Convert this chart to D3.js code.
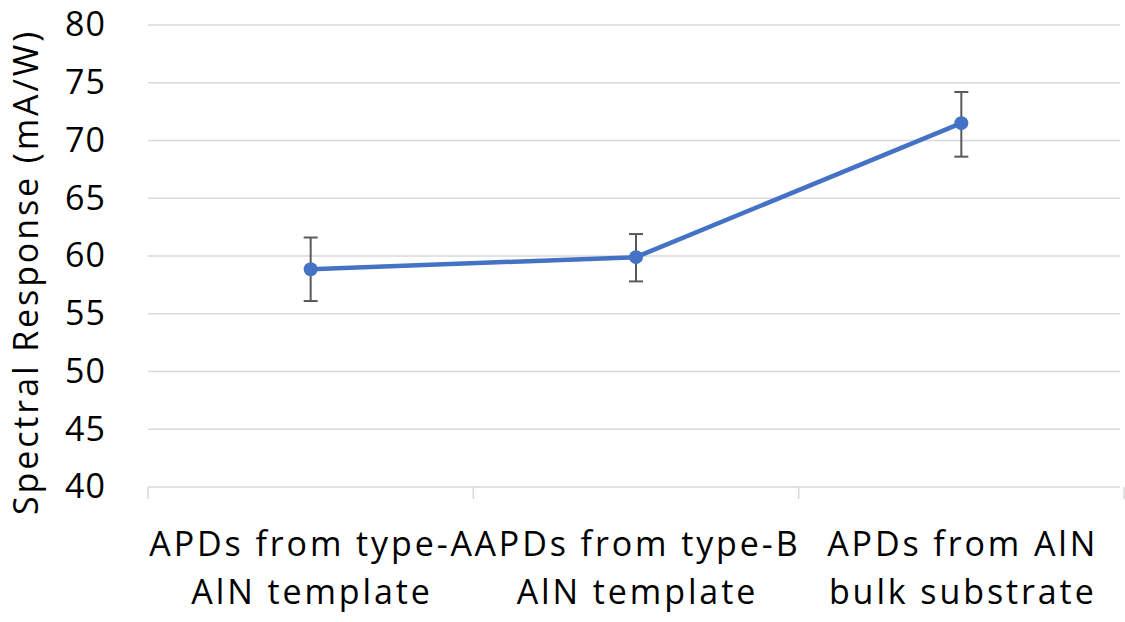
<!DOCTYPE html>
<html>
<head>
<meta charset="utf-8">
<script src="https://cdn.jsdelivr.net/npm/d3@7"></script>
<style>
  html, body { margin: 0; padding: 0; background: #fff; }
  svg text { font-family: "Open Sans", "Lato", sans-serif; fill: #000; }
</style>
</head>
<body>
<svg id="chart" width="1125" height="622"></svg>
<script>
// Spectral response of APDs grown on different AlN bases
const categories = [
  ["APDs from type-A", "AlN template"],
  ["APDs from type-B", "AlN template"],
  ["APDs from AlN", "bulk substrate"]
];
const response = [58.85, 59.9, 71.5];
const errPlus = [2.75, 2.0, 2.7];
const errMinus = [2.75, 2.1, 2.9];
const yTicks = [40, 45, 50, 55, 60, 65, 70, 75, 80];
const yTitle = "Spectral Response (mA/W)";

const svg = d3.select("#chart");
const margin = { left: 148, right: 1, top: 25, bottom: 135 };
const W = 1125, H = 622;
const fontSize = 34;
const spacing = 2.9;

const x = d3.scaleBand()
  .domain(d3.range(categories.length))
  .range([margin.left, W - margin.right])
  .paddingInner(0).paddingOuter(0);

const y = d3.scaleLinear()
  .domain([40, 80])
  .range([H - margin.bottom, margin.top]);

// horizontal gridlines
svg.append("g")
  .selectAll("line")
  .data(yTicks.filter(t => t > 40))
  .join("line")
  .attr("x1", margin.left)
  .attr("x2", W - margin.right - 4)
  .attr("y1", d => y(d))
  .attr("y2", d => y(d))
  .attr("stroke", "#d9d9d9")
  .attr("stroke-width", 1.5);

// y axis labels
const yAxis = d3.axisLeft(y).tickValues(yTicks).tickSize(0).tickPadding(42);
const gy = svg.append("g").attr("transform", `translate(${margin.left},0)`).call(yAxis);
gy.select(".domain").remove();
gy.selectAll("text")
  .attr("font-size", fontSize)
  .attr("font-family", "'Open Sans', Lato, sans-serif")
  .attr("letter-spacing", 1)
  .attr("fill", "#000");

// x axis line and category boundary ticks
const baseY = y(40);
svg.append("line")
  .attr("x1", margin.left).attr("x2", W - margin.right - 4)
  .attr("y1", baseY).attr("y2", baseY)
  .attr("stroke", "#d9d9d9").attr("stroke-width", 1.5);
const bounds = d3.range(categories.length + 1).map(i => margin.left + i * x.bandwidth());
svg.append("g").selectAll("line")
  .data(bounds)
  .join("line")
  .attr("x1", d => d).attr("x2", d => d)
  .attr("y1", baseY).attr("y2", baseY + 12)
  .attr("stroke", "#d9d9d9").attr("stroke-width", 1.5);

// category labels (two lines each)
const cx = i => x(i) + x.bandwidth() / 2;
const lab = svg.append("g");
categories.forEach((lines, i) => {
  lines.forEach((s, j) => {
    lab.append("text")
      .attr("x", cx(i) + spacing / 2)
      .attr("y", 556 + j * 48)
      .attr("text-anchor", "middle")
      .attr("font-size", fontSize)
      .attr("letter-spacing", spacing)
      .text(s);
  });
});

// y axis title
svg.append("text")
  .attr("transform", `translate(38,${(y(40) + y(80)) / 2 + 16}) rotate(-90)`)
  .attr("text-anchor", "middle")
  .attr("font-size", fontSize)
  .attr("letter-spacing", spacing)
  .text(yTitle);

// error bars
const eb = svg.append("g").attr("stroke", "#595959").attr("stroke-width", 2);
response.forEach((v, i) => {
  const px = cx(i);
  const top = y(v + errPlus[i]), bot = y(v - errMinus[i]);
  eb.append("line").attr("x1", px).attr("x2", px).attr("y1", top).attr("y2", bot);
  eb.append("line").attr("x1", px - 7).attr("x2", px + 7).attr("y1", top).attr("y2", top);
  eb.append("line").attr("x1", px - 7).attr("x2", px + 7).attr("y1", bot).attr("y2", bot);
});

// series line
const line = d3.line().x((d, i) => cx(i)).y(d => y(d));
svg.append("path")
  .datum(response)
  .attr("d", line)
  .attr("fill", "none")
  .attr("stroke", "#4472c4")
  .attr("stroke-width", 4.5)
  .attr("stroke-linejoin", "round");

// markers
svg.append("g").selectAll("circle")
  .data(response)
  .join("circle")
  .attr("cx", (d, i) => cx(i))
  .attr("cy", d => y(d))
  .attr("r", 7)
  .attr("fill", "#4472c4");
</script>
</body>
</html>
